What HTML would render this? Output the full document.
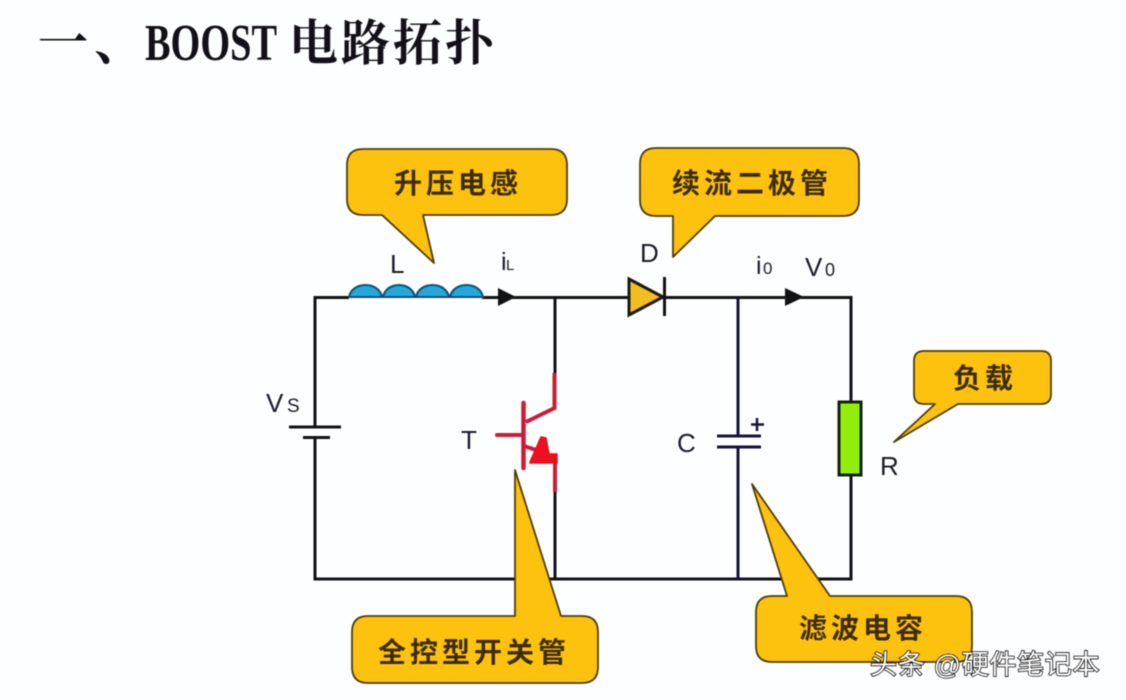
<!DOCTYPE html>
<html>
<head>
<meta charset="utf-8">
<style>
html,body{margin:0;padding:0;background:#fdfeff;width:1126px;height:700px;overflow:hidden}
svg{display:block;filter:blur(.4px)}
.c{font-family:"Liberation Sans","Noto Sans CJK SC",sans-serif;font-size:28px;font-weight:700;fill:#3d2c0c}
.l{font-family:"Liberation Sans",sans-serif;fill:#1a1a2c}
.t{font-family:"Liberation Serif","Noto Serif CJK SC",serif;fill:#14101a}
.w{font-family:"Liberation Sans","Noto Sans CJK SC",sans-serif;font-size:27px;letter-spacing:.7px;fill:#fff;stroke:#111;stroke-width:1.6px;paint-order:stroke}
</style>
</head>
<body>
<svg width="1126" height="700" viewBox="0 0 1126 700" xmlns="http://www.w3.org/2000/svg">
<rect width="1126" height="700" fill="#fdfeff"/>

<!-- title -->
<text class="t" x="38" y="60" font-size="50" letter-spacing="6" style="font-family:'Noto Serif CJK SC',serif;font-weight:700">一、</text>
<text class="t" x="145" y="60" font-size="52" textLength="132" lengthAdjust="spacingAndGlyphs" style="font-weight:700">BOOST</text>
<text class="t" x="289" y="60" font-size="49" letter-spacing="3" style="font-family:'Noto Serif CJK SC',serif;font-weight:700">电路拓扑</text>

<!-- wires -->
<g fill="none" stroke="#111118" stroke-width="3">
  <path d="M315 427V297.500H349M482 297.500H663M663 297.500H851V401M851 476V579H315V437"/>
  <path d="M555 297V375M555 488V579"/>
  <path d="M738 297V436M738 447V579" stroke="#14143a"/>
  <path d="M289 427H341M303 437.500H330"/>
  <path d="M717 436H761M717 447H761" stroke="#14143a"/>
  <path d="M757 418V431M751 424.500H764" stroke="#14143a" stroke-width="2.500"/>
</g>

<!-- inductor -->
<g fill="#22a8dc" stroke="#14506e" stroke-width="2">
  <path d="M349 297C352 281 379 281 382 297Z"/>
  <path d="M383 297C386 281 412 281 415 297Z"/>
  <path d="M416 297C419 281 446 281 449 297Z"/>
  <path d="M450 297C453 281 480 281 483 297Z"/>
</g>

<!-- arrows -->
<path d="M498 288L516 297L498 306Z" fill="#111118"/>
<path d="M785 288L804 297L785 306Z" fill="#111118"/>

<!-- diode -->
<path d="M629 279L663 297L629 315Z" fill="#f2bd22" stroke="#1c1a14" stroke-width="3"/>
<path d="M664.500 277V316" stroke="#111118" stroke-width="3"/>

<!-- resistor -->
<rect x="839" y="402" width="22" height="73" fill="#90ee0a" stroke="#15210c" stroke-width="3"/>

<!-- IGBT -->
<g fill="none" stroke="#cc1c36" stroke-width="4">
  <path d="M554.500 373V408L526 422"/>
  <path d="M523.500 403V468" stroke-width="4.500" stroke-linecap="round"/>
  <path d="M497 435H523" stroke-linecap="round"/>
  <path d="M524 446L536 450"/>
  <path d="M555 456V492"/>
</g>
<path d="M530 462L541 437L546 438L549 454H557V463H530Z" fill="#ee1020" stroke="#e01020" stroke-width="1.500" stroke-linejoin="round"/>

<!-- callouts -->
<g fill="#fdc20e" stroke="#4e3c0c" stroke-width="1.800" stroke-linejoin="round">
  <path d="M363 149H551Q567 149 567 165V199Q567 215 551 215H423L434 263L382 215H363Q347 215 347 199V165Q347 149 363 149Z"/>
  <path d="M656 148H843Q859 148 859 164V200Q859 216 843 216H715L673 257V216H656Q640 216 640 200V164Q640 148 656 148Z"/>
  <path d="M924 351H1041Q1051 351 1051 361V394Q1051 404 1041 404H958L894 442L935 404H924Q914 404 914 394V361Q914 351 924 351Z"/>
  <path d="M368 616H515V470L561 616H582Q598 616 598 632V667Q598 683 582 683H368Q352 683 352 667V632Q352 616 368 616Z"/>
  <path d="M772 596H787L752 484L830 596H956Q972 596 972 612V646Q972 662 956 662H772Q756 662 756 646V612Q756 596 772 596Z"/>
</g>

<!-- callout text -->
<text class="c" x="394" y="193" letter-spacing="4">升压电感</text>
<text class="c" x="672" y="193" letter-spacing="4">续流二极管</text>
<text class="c" x="953" y="388" letter-spacing="4">负载</text>
<text class="c" x="378" y="662" letter-spacing="4">全控型开关管</text>
<text class="c" x="799" y="638" letter-spacing="4">滤波电容</text>

<!-- component labels -->
<text class="l" x="390" y="273" font-size="26">L</text>
<text class="l" x="501" y="270" font-size="25">i</text>
<text class="l" x="506" y="270" font-size="15">L</text>
<text class="l" x="266" y="412" font-size="26">V</text>
<text class="l" x="287" y="412" font-size="19">S</text>
<text class="l" x="461" y="449" font-size="26">T</text>
<text class="l" x="640" y="262" font-size="26">D</text>
<text class="l" x="756" y="274" font-size="25">i</text>
<text class="l" x="763" y="274" font-size="17">0</text>
<text class="l" x="805" y="276" font-size="26">V</text>
<text class="l" x="825" y="276" font-size="18">0</text>
<text class="l" x="677" y="452" font-size="26">C</text>
<text class="l" x="880" y="475" font-size="26">R</text>

<!-- watermark -->
<text class="w" x="870" y="674">头条 @硬件笔记本</text>
</svg>
</body>
</html>
